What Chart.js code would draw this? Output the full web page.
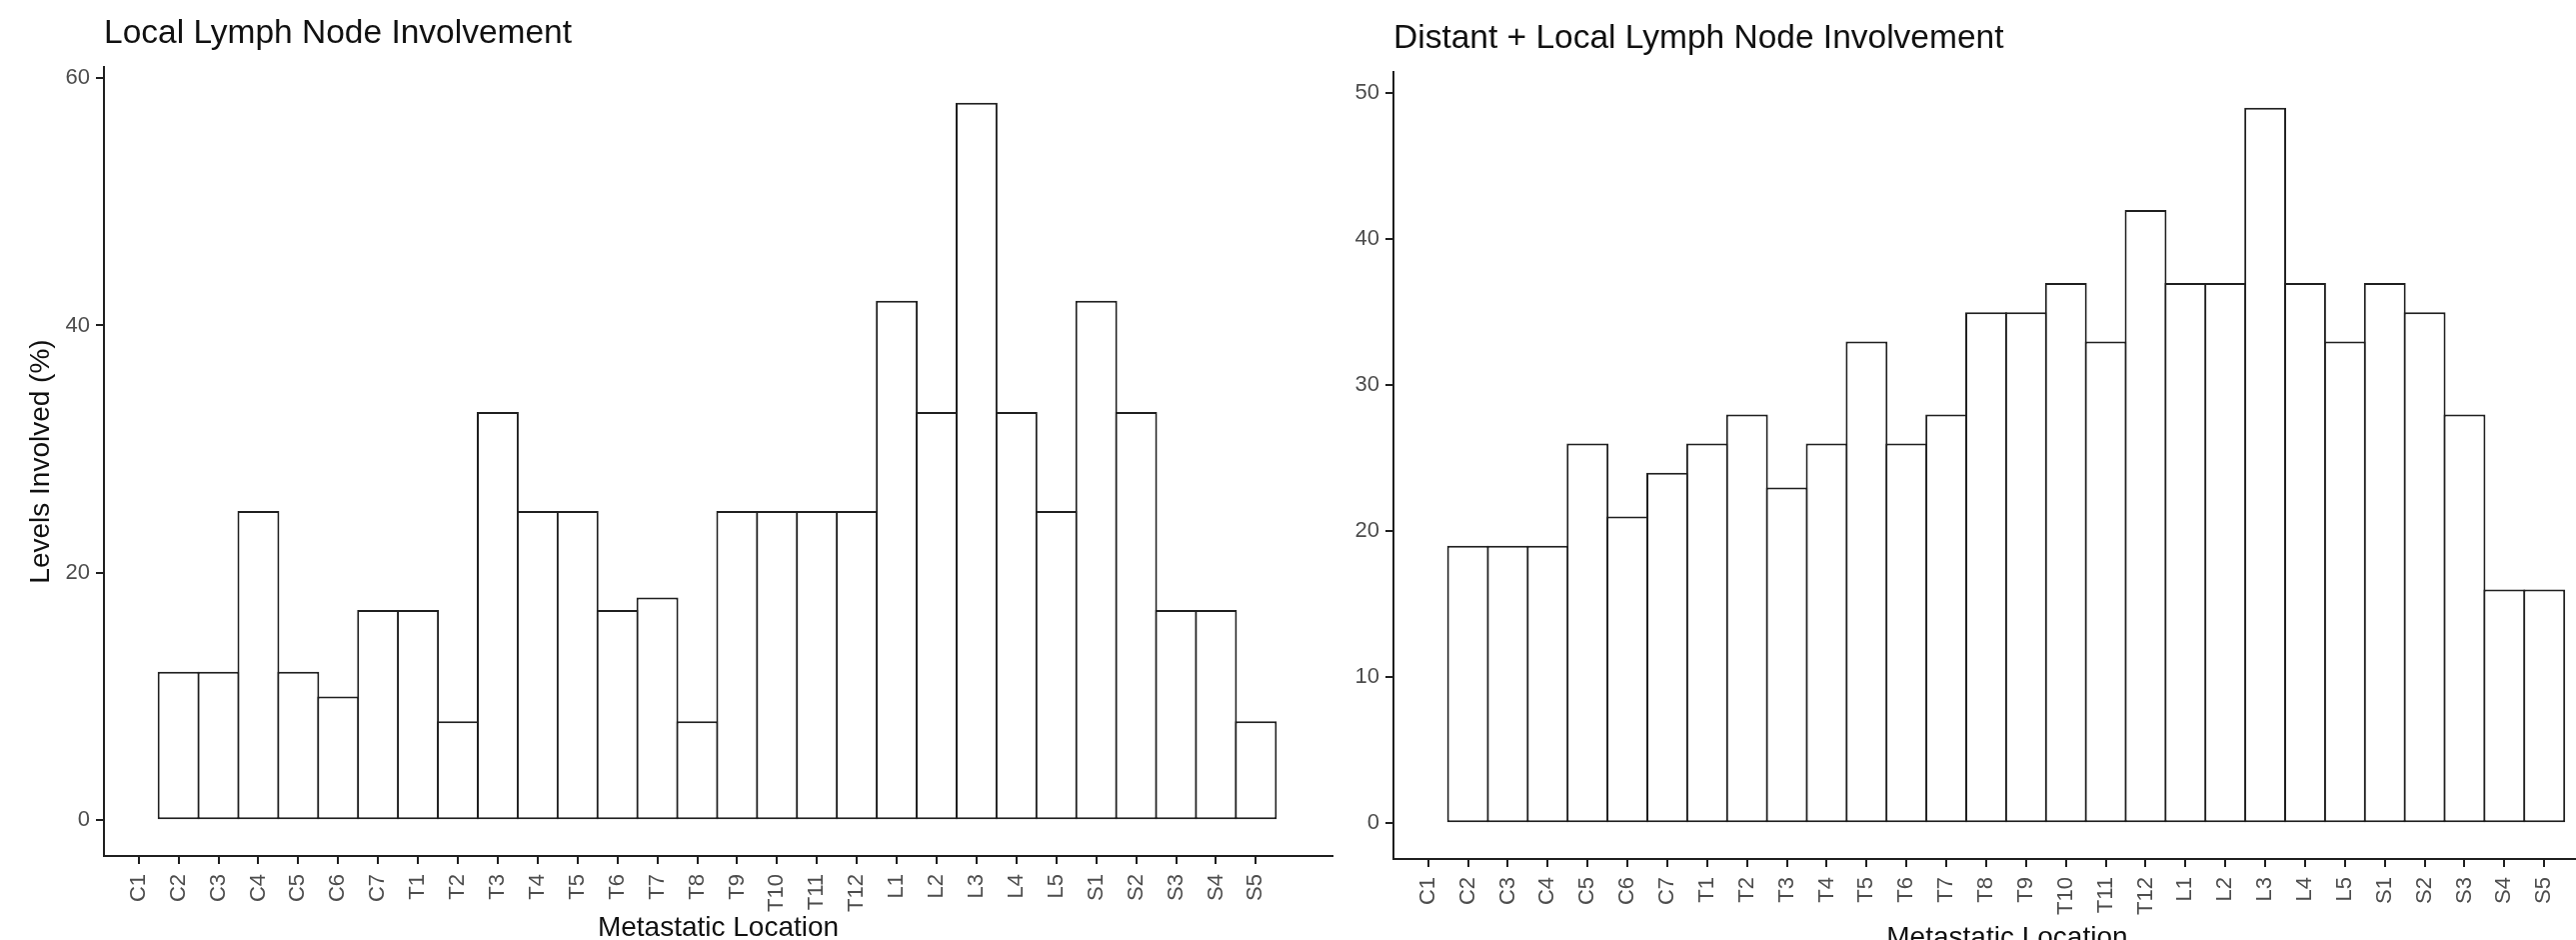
<!DOCTYPE html>
<html>
<head>
<meta charset="utf-8">
<title>Lymph Node Involvement</title>
<script src="https://cdn.jsdelivr.net/npm/chart.js@4.4.1/dist/chart.umd.min.js"></script>
<style>
  html, body { margin: 0; padding: 0; background: #fff; overflow: hidden; }
  body { width: 2577px; height: 940px; position: relative; }
  .panel { position: absolute; top: 0; }
  #left-panel { left: 0; width: 1345px; height: 980px; }
  #right-panel { left: 1300px; width: 1340px; height: 990px; }
</style>
</head>
<body>
<div class="panel" id="left-panel"><canvas id="local-chart"></canvas></div>
<div class="panel" id="right-panel"><canvas id="distant-chart"></canvas></div>
<script>
// Spinal levels (x categories)
const levels = ['C1', 'C2', 'C3', 'C4', 'C5', 'C6', 'C7',
  'T1', 'T2', 'T3', 'T4', 'T5', 'T6', 'T7', 'T8', 'T9', 'T10', 'T11', 'T12',
  'L1', 'L2', 'L3', 'L4', 'L5',
  'S1', 'S2', 'S3', 'S4', 'S5'];

// Levels involved (%) - local lymph node involvement
const localValues = [null, 12, 12, 25, 12, 10, 17,
  17, 8, 33, 25, 25, 17, 18, 8, 25, 25, 25, 25,
  42, 33, 58, 33, 25,
  42, 33, 17, 17, 8];

// Levels involved (%) - distant + local lymph node involvement
const distantValues = [null, 19, 19, 19, 26, 21, 24,
  26, 28, 23, 26, 33, 26, 28, 35, 35, 37, 33, 42,
  37, 37, 49, 37, 33,
  37, 35, 28, 16, 16];

const localTicks = [0, 20, 40, 60];
const distantTicks = [0, 10, 20, 30, 40, 50];

const FONT = "'Liberation Sans', Arial, sans-serif";
const LINE = '#1f1f1f';
const TICK_TEXT = '#4d4d4d';
const TEXT = '#111111';

function makeChart(id, cfg) {
  const ctx = document.getElementById(id);
  return new Chart(ctx, {
    type: 'bar',
    data: {
      datasets: [{
        data: cfg.values.map((v, i) => ({ x: i + 1, y: v })),
        backgroundColor: '#ffffff',
        borderColor: LINE,
        borderWidth: 2,
        borderSkipped: false,
        // slightly over 1 so neighbouring outlines share one edge
        barPercentage: 1.05,
        categoryPercentage: 1
      }]
    },
    options: {
      responsive: true,
      maintainAspectRatio: false,
      animation: false,
      events: [],
      layout: { padding: { left: 0, right: cfg.padRight, top: 0, bottom: 0 } },
      plugins: {
        legend: { display: false },
        tooltip: { enabled: false },
        title: {
          display: true,
          text: cfg.title,
          align: 'start',
          fullSize: false,
          color: TEXT,
          font: { family: FONT, size: 33.5, weight: 'normal' },
          padding: { top: cfg.titleTop, bottom: cfg.titleBottom }
        }
      },
      scales: {
        x: {
          type: 'linear',
          offset: false,
          min: 0.13,
          max: 30.92,
          afterBuildTicks: s => { s.ticks = levels.map((l, i) => ({ value: i + 1 })); },
          afterFit: s => { s.height = cfg.xHeight; s.paddingLeft = 0; s.paddingRight = 0; },
          ticks: {
            callback: v => levels[v - 1],
            autoSkip: false,
            maxRotation: 90,
            minRotation: 90,
            padding: 10,
            color: TICK_TEXT,
            font: { family: FONT, size: 22 }
          },
          grid: { display: true, offset: false, drawOnChartArea: false, drawTicks: true, tickLength: 8, color: LINE, lineWidth: 2 },
          border: { display: true, color: LINE, width: 2 },
          title: {
            display: true,
            text: 'Metastatic Location',
            color: TEXT,
            font: { family: FONT, size: 28 },
            padding: { top: 0, bottom: 35.2 }
          }
        },
        y: {
          type: 'linear',
          min: cfg.yMin,
          max: cfg.yMax,
          afterBuildTicks: s => { s.ticks = cfg.yTicks.map(v => ({ value: v })); },
          afterFit: s => { s.width = cfg.yWidth; s.paddingTop = 0; s.paddingBottom = 0; },
          ticks: {
            padding: 6,
            color: TICK_TEXT,
            font: { family: FONT, size: 22 }
          },
          grid: { display: true, drawOnChartArea: false, drawTicks: true, tickLength: 8, color: LINE, lineWidth: 2 },
          border: { display: true, color: LINE, width: 2 },
          title: {
            display: cfg.yTitle !== '',
            text: cfg.yTitle,
            color: TEXT,
            font: { family: FONT, size: 28 },
            padding: { top: 24.7, bottom: 0 }
          }
        }
      }
    }
  });
}

makeChart('local-chart', {
  title: 'Local Lymph Node Involvement',
  values: localValues,
  yTicks: localTicks,
  yMin: -2.9,
  yMax: 60.9,
  yTitle: 'Levels Involved (%)',
  yWidth: 104,
  padRight: 12,
  titleTop: 13.3,
  titleBottom: 13.5,
  xHeight: 124
});

makeChart('distant-chart', {
  title: 'Distant + Local Lymph Node Involvement',
  values: distantValues,
  yTicks: distantTicks,
  yMin: -2.45,
  yMax: 51.45,
  yTitle: '',
  yWidth: 94,
  padRight: 18.2,
  titleTop: 18.9,
  titleBottom: 12.9,
  xHeight: 131
});
</script>
</body>
</html>
